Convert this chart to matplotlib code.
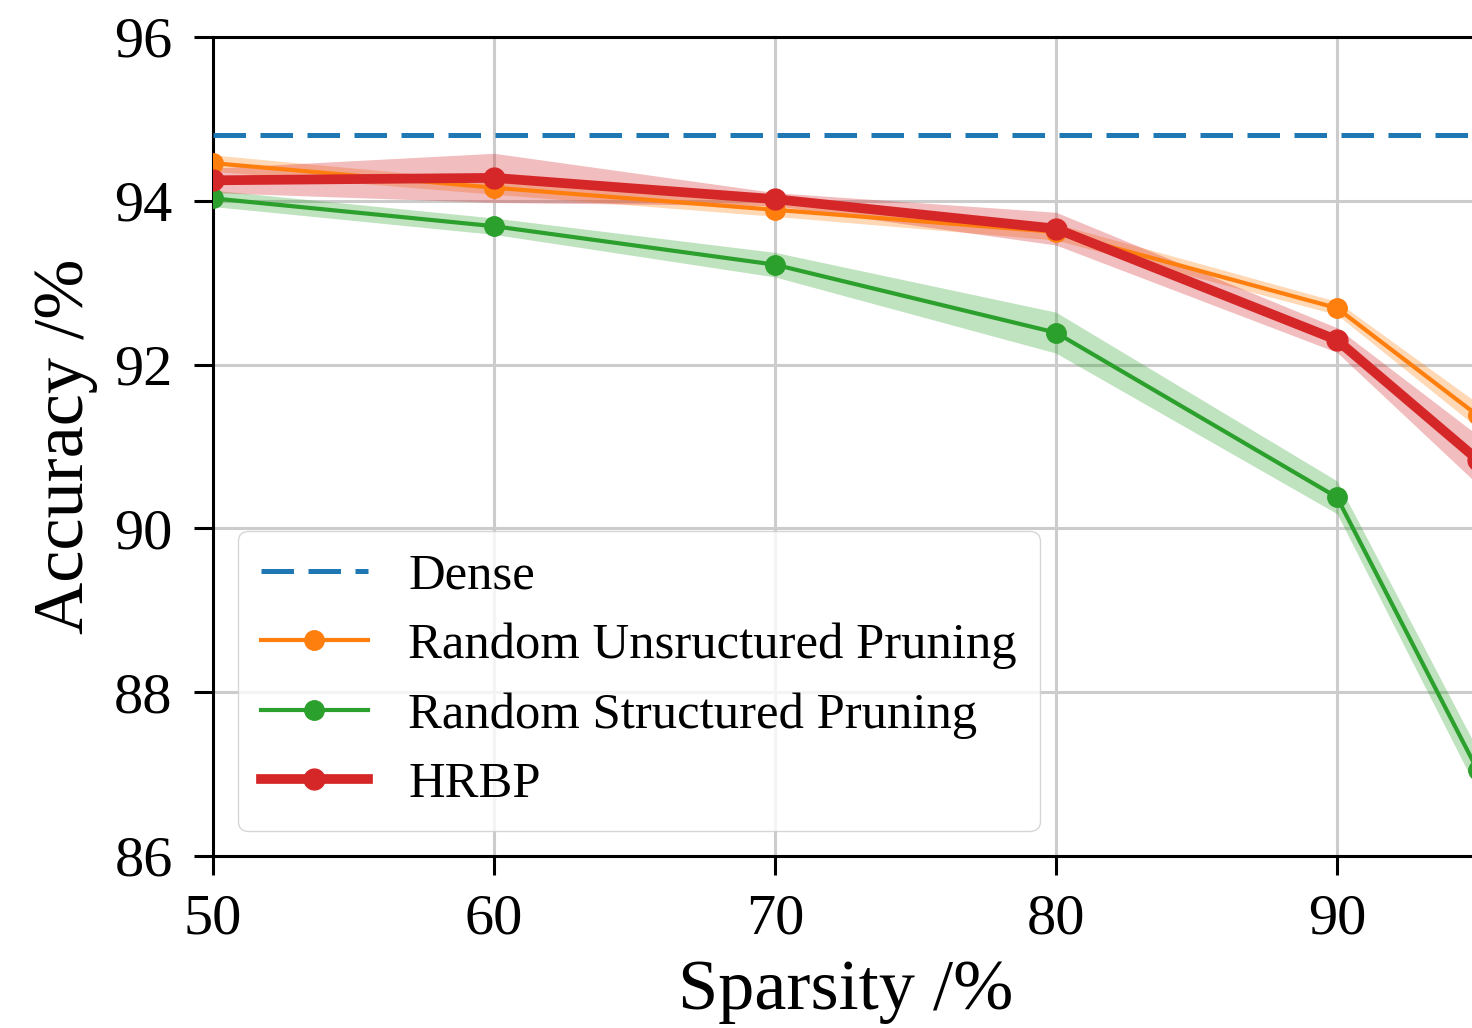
import matplotlib
matplotlib.use("Agg")
import matplotlib.pyplot as plt
import numpy as np

sparsity = [50, 60, 70, 80, 90, 95]
dense_acc = 94.8
unstruct_mean = [94.46, 94.16, 93.89, 93.62, 92.69, 91.38]
unstruct_std = [0.10, 0.08, 0.08, 0.10, 0.08, 0.15]
struct_mean = [94.03, 93.69, 93.22, 92.39, 90.38, 87.05]
struct_std = [0.10, 0.10, 0.15, 0.25, 0.20, 0.25]
hrbp_mean = [94.25, 94.28, 94.02, 93.66, 92.30, 90.84]
hrbp_std = [0.15, 0.30, 0.08, 0.20, 0.15, 0.30]
xticks = [50, 60, 70, 80, 90]
yticks = [86, 88, 90, 92, 94, 96]

plt.rcParams['font.family'] = ['Liberation Serif', 'DejaVu Serif']

fig = plt.figure(figsize=(14.72, 10.28), dpi=100)
ax = fig.add_axes([213/1472, 1-856/1028, (1477.5-213)/1472, (856-37)/1028])

blue, orange, green, red = '#1f77b4', '#ff7f0e', '#2ca02c', '#d62728'

ax.axhline(dense_acc, color=blue, lw=3.6, ls=(0, (6.5, 2.9)), label='Dense', zorder=3)

x = np.array(sparsity)
for m, s, c, lw, ms, lab in [
    (unstruct_mean, unstruct_std, orange, 3.0, 14, 'Random Unsructured Pruning'),
    (struct_mean, struct_std, green, 3.0, 14, 'Random Structured Pruning'),
    (hrbp_mean, hrbp_std, red, 7.0, 15, 'HRBP'),
]:
    m = np.array(m); s = np.array(s)
    ax.fill_between(x, m - s, m + s, color=c, alpha=0.3, lw=0, zorder=2)
    ax.plot(x, m, color=c, lw=lw, marker='o', ms=ms, label=lab, zorder=4)

ax.set_xlim(50, 95)
ax.set_ylim(86, 96)
ax.set_xticks(xticks)
ax.set_yticks(yticks)
ax.grid(True, color='#cccccc', lw=2.2)
ax.set_axisbelow(True)
for sp in ax.spines.values():
    sp.set_linewidth(2.2)
ax.spines['right'].set_visible(False)
ax.tick_params(axis='both', labelsize=42, length=14, width=2.2, direction='out', pad=13)
ax.tick_params(axis='y', pad=15)
ax.set_xlabel('Sparsity /%', fontsize=52, labelpad=10)
ax.set_ylabel('Accuracy /%', fontsize=52, labelpad=12)

leg = ax.legend(loc='lower left', fontsize=36.5, framealpha=0.8, borderpad=0.45,
                labelspacing=0.45, handlelength=2.1, handletextpad=0.8,
                bbox_to_anchor=(0.0, 0.0), borderaxespad=0.5)

fig.savefig('out.png', dpi=100)
